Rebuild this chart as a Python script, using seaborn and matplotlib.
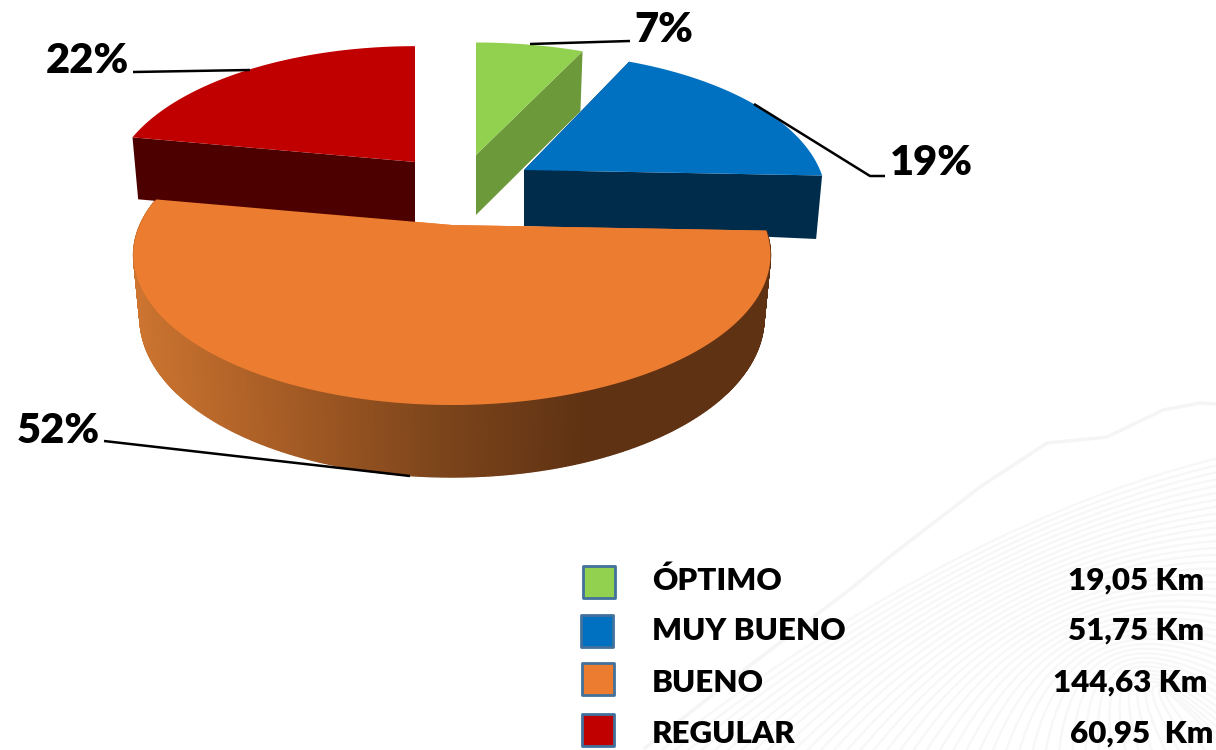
#!/usr/bin/env python3
# -*- coding: utf-8 -*-
import matplotlib as mpl
mpl.use('Agg')
import matplotlib.pyplot as plt
import numpy as np
import pandas as pd
import seaborn as sns

categories = ['ÓPTIMO', 'MUY BUENO', 'BUENO', 'REGULAR']
km_values = [19.05, 51.75, 144.63, 60.95]
km_labels = ['19,05 Km', '51,75 Km', '144,63 Km', '60,95  Km']

top_colors = ['#92D050', '#0070C0', '#EC7C30', '#C00000']
wall_colors = ['#6C9A3A', '#002C4C', '#EC7C30', '#4C0000']
orange_wall = ['#CC7430', '#A65C25', '#7D451B', '#5F3213']

# pie layout, in picture pixels
apex = [(476, 155), (524, 170), (452, 225), (415, 162)]
radius_x = [300, 296, 312, 298]
radius_y = [135, 141, 144, 139]
apex_depth = [60, 56, 58, 62]
rim_depth = [60, 63, 60, 62]
persp = 0.2


def project(i, ang, bottom=False):
	'''angle clockwise from the back of the pie to screen position'''
	ang = np.radians(ang)
	u, v = np.sin(ang), np.cos(ang)
	w = 1 + persp * v
	scale = 0.98 if bottom else 1.0
	x = apex[i][0] + scale * radius_x[i] * u / w
	y = apex[i][1] - radius_y[i] * v / w
	if bottom:
		y = y + rim_depth[i] + 12 * np.maximum(-v, 0)
	return x, y


def draw_slice(ax, i, a0, a1):
	angs = np.linspace(a0, a1, 500)
	xs, ys = project(i, angs)
	# cut faces
	ax0, ay0 = apex[i]
	bx0, by0 = ax0, ay0 + apex_depth[i]
	for a in (a0, a1):
		x1, y1 = project(i, a)
		x2, y2 = project(i, a, True)
		ax.fill([ax0, x1, x2, bx0], [ay0, y1, y2, by0], color=wall_colors[i], lw=0, zorder=2 + i)
	# outer wall, only the orange one shows
	if i == 2:
		xb, yb = project(i, angs, True)
		pal = sns.blend_palette(orange_wall, 301)
		lo = xs.min()
		for j in range(len(angs) - 1):
			frac = min(1, (xs[j] - lo) / 455.0)  # flat dark colour after that
			ax.fill([xs[j], xs[j + 1], xb[j + 1], xb[j]], [ys[j], ys[j + 1], yb[j + 1], yb[j]],
				color=pal[int(300 * frac)], lw=1.0, zorder=2 + i)
	ax.fill(np.r_[ax0, xs], np.r_[ay0, ys], color=top_colors[i], lw=0, zorder=3 + i)


def draw_wing(ax):
	# faint watermark behind the legend
	t = np.linspace(0, 1, 60)
	for s in np.linspace(0.03, 1, 42):
		p0 = np.array([645 + 560 * s, 750])
		p1 = np.array([950 + 170 * s, 520 + 120 * s])
		p2 = np.array([1216, 450 + 290 * s])
		pts = np.outer((1 - t) ** 2, p0) + np.outer(2 * t * (1 - t), p1) + np.outer(t ** 2, p2)
		ax.plot(pts[:, 0], pts[:, 1], color='#F7F7F7', lw=1.6, zorder=0)
	edge_x = [645, 748, 853, 888, 980, 1047, 1107, 1163, 1200, 1216]
	edge_y = [748, 667, 587, 558, 487, 443, 437, 410, 403, 404]
	ax.plot(edge_x, edge_y, color='#F5F5F5', lw=2.5, zorder=0)


def main():
	sns.set_theme(style='white')
	plt.rcParams['font.family'] = ['Lato', 'DejaVu Sans']
	fig = plt.figure(figsize=(12.16, 7.5), dpi=100)
	ax = fig.add_axes([0, 0, 1, 1])

	draw_wing(ax)

	total = sum(km_values)
	edges = np.r_[0, np.cumsum(km_values)] / total * 360
	for i in (3, 0, 1, 2):
		draw_slice(ax, i, edges[i], edges[i + 1])

	# leader lines and percent labels
	leaders = [([530, 630], [44, 41]), ([754, 870, 885], [104, 176, 176]),
		([104, 410], [441, 476]), ([133, 250], [72, 70])]
	label_pos = [(664, 30), (931, 163), (58, 431), (87, 61)]
	for i, val in enumerate(km_values):
		ax.plot(leaders[i][0], leaders[i][1], color='black', lw=1.8, zorder=10, solid_capstyle='butt')
		ax.text(label_pos[i][0], label_pos[i][1], '{:.0f}%'.format(100 * val / total), fontsize=30,
			fontweight='heavy', color='black', ha='center', va='center', zorder=11)

	# legend
	legend_df = pd.DataFrame({'x': [599, 597, 598, 598], 'y': [582, 631, 679, 730], 'cat': categories})
	sns.scatterplot(data=legend_df, x='x', y='y', hue='cat', palette=top_colors, marker='s', s=500,
		edgecolor='#41719C', linewidth=2, legend=False, ax=ax, zorder=12)
	ax.set_xlim(0, 1216)
	ax.set_ylim(750, 0)
	ax.axis('off')
	row_y = [581, 631, 683, 734]
	km_right = [1204, 1204, 1207, 1213]
	for i, name in enumerate(categories):
		ax.text(652, row_y[i], name, fontsize=22.5, fontweight='heavy', color='black', ha='left', va='center', zorder=12)
		ax.text(km_right[i], row_y[i], km_labels[i], fontsize=22.5, fontweight='heavy', color='black', ha='right', va='center', zorder=12)

	fig.savefig('out.png', dpi=100, facecolor='white')


if __name__ == '__main__':
	main()
